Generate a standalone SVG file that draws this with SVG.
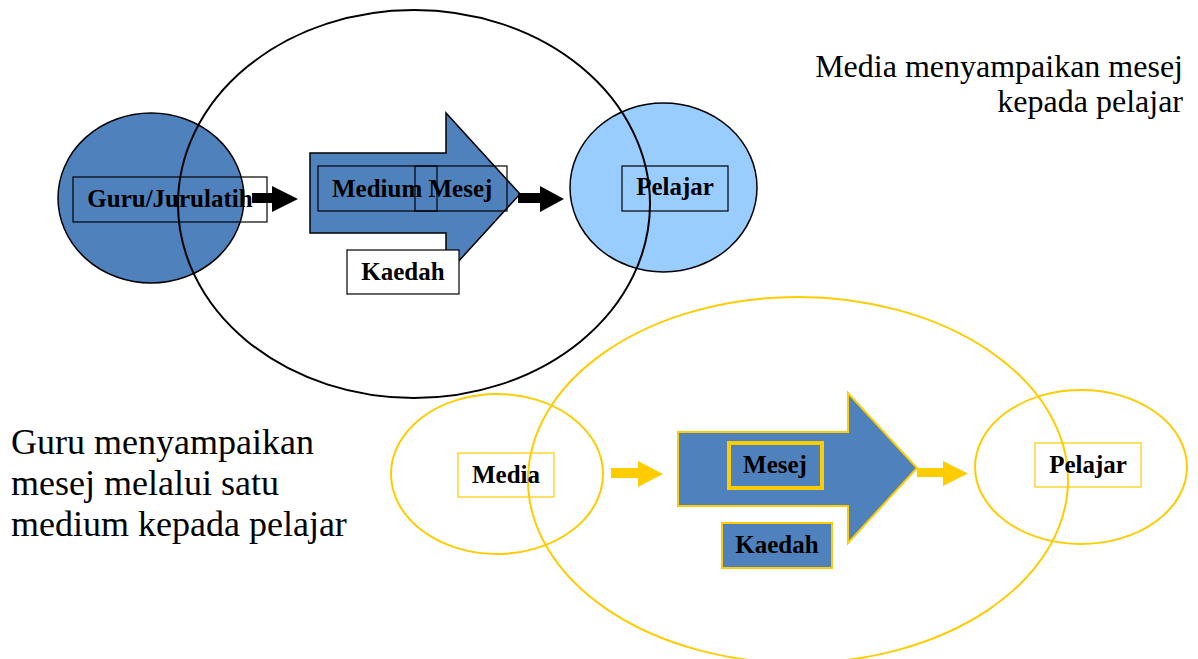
<svg xmlns="http://www.w3.org/2000/svg" width="1198" height="659" viewBox="0 0 1198 659">
  <style>
    .lbl { font-family: "Liberation Serif", "Times New Roman", serif; font-weight: bold; font-size: 25px; fill: #000; }
    .cap { font-family: "Liberation Serif", "Times New Roman", serif; fill: #000; }
    .box { fill: none; stroke: #000; stroke-width: 1.2; }
    .ybox { fill: none; stroke: #FFCC00; stroke-width: 1.2; }
    .ring { fill: none; stroke: #000; stroke-width: 2; }
    .yring { fill: none; stroke: #FFCC00; stroke-width: 2; }
    .blue { fill: #4F81BD; }
  </style>

  <rect width="1198" height="659" fill="#fff"/>

  <!-- ===== Upper model ===== -->
  <g id="guru">
    <ellipse cx="151" cy="198" rx="93" ry="85" class="blue" stroke="#000" stroke-width="1.5"/>
  </g>
  <g id="pelajar-top">
    <ellipse cx="663.5" cy="187.5" rx="93.5" ry="84.5" fill="#99CCFF" stroke="#000" stroke-width="1.5"/>
  </g>
  <g id="media-scope">
    <ellipse cx="414" cy="204" rx="236" ry="194" class="ring"/>
  </g>
  <g id="guru-label">
    <rect x="73" y="177" width="194" height="45" class="box"/>
    <text x="170" y="207" class="lbl" text-anchor="middle">Guru/Jurulatih</text>
  </g>
  <g id="medium">
    <polygon points="310,153 446,153 446,113 520,194 446,275 446,233 310,233" class="blue" stroke="#000" stroke-width="1.5"/>
    <rect x="318" y="166" width="119" height="45" class="box"/>
    <rect x="415" y="166" width="92" height="45" class="box"/>
    <text x="332" y="197" class="lbl">Medium Mesej</text>
  </g>
  <g id="kaedah-top">
    <rect x="347" y="250" width="112" height="44" fill="#fff" stroke="#000" stroke-width="1.2"/>
    <text x="403" y="280" class="lbl" text-anchor="middle">Kaedah</text>
  </g>
  <g id="pelajar-top-label">
    <rect x="622" y="166" width="106" height="45" class="box"/>
    <text x="675" y="195" class="lbl" text-anchor="middle">Pelajar</text>
  </g>

  <!-- ===== Lower model ===== -->
  <g id="media">
    <ellipse cx="497" cy="474" rx="106" ry="80" class="yring" stroke-width="1.5"/>
  </g>
  <g id="guru-scope">
    <ellipse cx="798" cy="480" rx="270" ry="183" class="yring"/>
  </g>
  <g id="pelajar">
    <ellipse cx="1081" cy="467" rx="106" ry="77" class="yring" stroke-width="1.5"/>
  </g>
  <g id="media-label">
    <rect x="458" y="453" width="96" height="44" class="ybox"/>
    <text x="506" y="483" class="lbl" text-anchor="middle">Media</text>
  </g>
  <g id="mesej">
    <polygon points="678,432 848,432 848,393 917,468 848,543 848,506 678,506" class="blue" stroke="#FFCC00" stroke-width="2"/>
    <rect x="729" y="443" width="93" height="45" class="blue" stroke="#FFCC00" stroke-width="4"/>
    <text x="775" y="473" class="lbl" text-anchor="middle">Mesej</text>
  </g>
  <g id="kaedah">
    <rect x="722" y="523" width="110" height="45" class="blue" stroke="#FFCC00" stroke-width="2"/>
    <text x="777" y="553" class="lbl" text-anchor="middle">Kaedah</text>
  </g>
  <g id="pelajar-label">
    <rect x="1035" y="443" width="106" height="44" class="ybox"/>
    <text x="1088" y="473" class="lbl" text-anchor="middle">Pelajar</text>
  </g>

  <!-- ===== Connectors ===== -->
  <g id="connectors">
    <polygon points="252,193 272,193 272,186 298,199 272,212 272,203 252,203" fill="#000"/>
    <polygon points="518,193 540,193 540,186 564,199 540,212 540,203 518,203" fill="#000"/>
    <polygon points="611,468 638,468 638,461 663,474 638,487 638,478 611,478" fill="#FFCC00"/>
    <polygon points="917,468 943,468 943,461 968,473.5 943,486 943,477 917,477" fill="#FFCC00"/>
  </g>

  <!-- ===== Captions ===== -->
  <g id="caption-media">
    <text class="cap" font-size="32" text-anchor="end" x="1183" y="77">Media menyampaikan mesej</text>
    <text class="cap" font-size="32" text-anchor="end" x="1183" y="112">kepada pelajar</text>
  </g>
  <g id="caption-guru">
    <text class="cap" font-size="36" x="11" y="454">Guru menyampaikan</text>
    <text class="cap" font-size="36" x="11" y="495">mesej melalui satu</text>
    <text class="cap" font-size="36" x="11" y="536">medium kepada pelajar</text>
  </g>
</svg>
